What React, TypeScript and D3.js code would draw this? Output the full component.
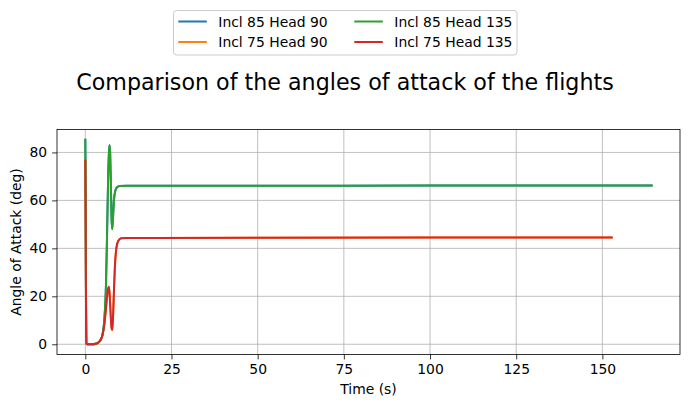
import React, { useRef, useEffect } from 'react';
import * as d3 from 'd3';

// flight data (time s, angle of attack deg)
const time85 = [0, 0.1, 0.2, 0.3, 0.5, 1, 2, 3, 3.5, 4, 4.5, 5, 5.5, 6, 6.3, 6.6, 6.9, 7.05, 7.2, 7.4, 7.6, 7.8, 8.0, 8.3, 8.7, 9.2, 10, 12, 20, 50, 100, 164.3];
const aoa85 = [85.3, 60, 20, 0.5, 0, 0, 0, 0.2, 0.5, 1, 2, 4, 10, 25, 45, 68, 81, 83, 80, 68, 53, 48, 52, 60, 64, 65.5, 66, 66.1, 66.1, 66.1, 66.2, 66.2];
const time75 = [0, 0.1, 0.2, 0.3, 0.5, 1, 2, 3, 3.5, 4, 4.5, 5, 5.5, 6, 6.4, 6.76, 7.0, 7.3, 7.6, 7.8, 8.0, 8.3, 8.6, 9.0, 9.5, 10.4, 12, 20, 50, 100, 152.7];
const aoa75 = [76.5, 50, 15, 0.5, 0, 0, 0, 0.2, 0.5, 1, 2, 4, 8, 15, 21, 24, 22, 14, 7, 6, 10, 22, 33, 40, 43, 44.2, 44.3, 44.3, 44.4, 44.5, 44.5];

const seriesNames = ['Incl 85 Head 90', 'Incl 75 Head 90', 'Incl 85 Head 135', 'Incl 75 Head 135'];
const seriesTimes = [time85, time75, time85, time75];
const seriesValues = [aoa85, aoa75, aoa85, aoa75];
const colors = ['#1f77b4', '#ff7f0e', '#2ca02c', '#d62728'];
const xTicks = [0, 25, 50, 75, 100, 125, 150];
const yTicks = [0, 20, 40, 60, 80];

const W = 690, H = 407;
const m = { left: 57, right: 10, top: 129.5, bottom: 52.5 };
const FS = 13.9;

const App = () => {
  const svgRef = useRef<SVGSVGElement>(null);

  useEffect(() => {
    const svg = d3.select(svgRef.current).html('');
    const font = 'DejaVu Sans, sans-serif';

    const xMax = 164.3, yMin = 0, yMaxV = 85.3;
    const xPad = xMax * 0.05, yPad = (yMaxV - yMin) * 0.05;
    const x = d3.scaleLinear().domain([-xPad, xMax + xPad]).range([m.left, W - m.right]);
    const y = d3.scaleLinear().domain([yMin - yPad, yMaxV + yPad]).range([H - m.bottom, m.top]);

    // grid
    const grid = svg.append('g').attr('stroke', '#b0b0b0').attr('stroke-width', 0.8);
    xTicks.forEach(t => grid.append('line')
      .attr('x1', x(t)).attr('x2', x(t)).attr('y1', m.top).attr('y2', H - m.bottom));
    yTicks.forEach(t => grid.append('line')
      .attr('x1', m.left).attr('x2', W - m.right).attr('y1', y(t)).attr('y2', y(t)));

    // lines
    const line = d3.line<[number, number]>().x(d => x(d[0])).y(d => y(d[1]));
    seriesNames.forEach((_, i) => {
      const pts = seriesTimes[i].map((t, j) => [t, seriesValues[i][j]] as [number, number]);
      svg.append('path').datum(pts)
        .attr('d', line.curve(d3.curveMonotoneX))
        .attr('fill', 'none').attr('stroke', colors[i]).attr('stroke-width', 2)
        .attr('stroke-linejoin', 'round').attr('stroke-linecap', 'square');
    });

    // axes
    const xa = svg.append('g').attr('transform', `translate(0,${H - m.bottom})`)
      .call(d3.axisBottom(x).tickValues(xTicks).tickSize(4.9).tickPadding(4.9));
    const ya = svg.append('g').attr('transform', `translate(${m.left},0)`)
      .call(d3.axisLeft(y).tickValues(yTicks).tickSize(4.9).tickPadding(4.9));
    [xa, ya].forEach(a => {
      a.select('.domain').remove();
      a.selectAll('text').attr('font-family', font).attr('font-size', FS).attr('fill', '#000');
      a.selectAll('line').attr('stroke', '#000').attr('stroke-width', 0.8);
    });
    svg.append('rect').attr('x', m.left).attr('y', m.top)
      .attr('width', W - m.left - m.right).attr('height', H - m.top - m.bottom)
      .attr('fill', 'none').attr('stroke', '#000').attr('stroke-width', 0.8);

    // labels
    svg.append('text').attr('x', (m.left + W - m.right) / 2).attr('y', 393.5)
      .attr('text-anchor', 'middle').attr('font-family', font).attr('font-size', FS)
      .text('Time (s)');
    svg.append('text').attr('transform', `translate(20.5,${(m.top + H - m.bottom) / 2}) rotate(-90)`)
      .attr('text-anchor', 'middle').attr('font-family', font).attr('font-size', FS)
      .text('Angle of Attack (deg)');
    svg.append('text').attr('x', 345).attr('y', 89.5)
      .attr('text-anchor', 'middle').attr('font-family', font).attr('font-size', 22.2)
      .text('Comparison of the angles of attack of the flights');

    // legend
    const lg = svg.append('g');
    lg.append('rect').attr('x', 173.5).attr('y', 10.5).attr('width', 343.5).attr('height', 44.5)
      .attr('rx', 3).attr('fill', '#fff').attr('stroke', '#cccccc').attr('stroke-width', 1);
    seriesNames.forEach((name, i) => {
      const col = i < 2 ? 0 : 1, row = i % 2;
      const lx = col === 0 ? 178.3 : 354.3, ly = 21.5 + row * 20.5;
      lg.append('line').attr('x1', lx).attr('x2', lx + 28.5).attr('y1', ly).attr('y2', ly)
        .attr('stroke', colors[i]).attr('stroke-width', 2);
      lg.append('text').attr('x', lx + 40).attr('y', ly + 5)
        .attr('font-family', font).attr('font-size', FS).text(name);
    });
  }, []);

  return <svg ref={svgRef} width={W} height={H} style={{ display: 'block', position: 'absolute', left: 0, top: 0 }} />;
};

export default App;
